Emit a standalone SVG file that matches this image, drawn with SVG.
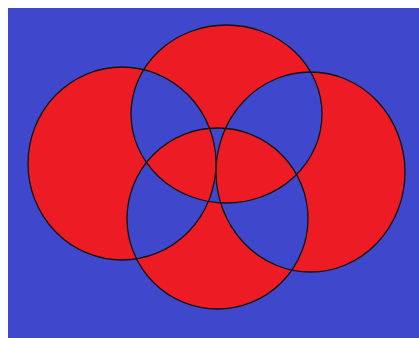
<svg xmlns="http://www.w3.org/2000/svg" width="419" height="338" viewBox="0 0 419 338">
<style>
.bg{fill:#3F48CC}
.fill{fill:#ED1C24;fill-rule:evenodd;stroke:none}
.ring{fill:none;stroke:#111;stroke-width:1.3}
</style>
<rect class="bg" x="8" y="8" width="411" height="330"/>
<path class="fill" d="M28,163.5a94,96.5 0 1,0 188,0a94,96.5 0 1,0 -188,0Z M131,114a95.5,89 0 1,0 191,0a95.5,89 0 1,0 -191,0Z M216,172a94.5,100 0 1,0 189,0a94.5,100 0 1,0 -189,0Z M127,218.5a90.5,90.5 0 1,0 181,0a90.5,90.5 0 1,0 -181,0Z"/>
<g id="left"><ellipse class="ring" cx="122" cy="163.5" rx="94" ry="96.5"/></g>
<g id="top"><ellipse class="ring" cx="226.5" cy="114" rx="95.5" ry="89"/></g>
<g id="right"><ellipse class="ring" cx="310.5" cy="172" rx="94.5" ry="100"/></g>
<g id="bottom"><ellipse class="ring" cx="217.5" cy="218.5" rx="90.5" ry="90.5"/></g>
</svg>
